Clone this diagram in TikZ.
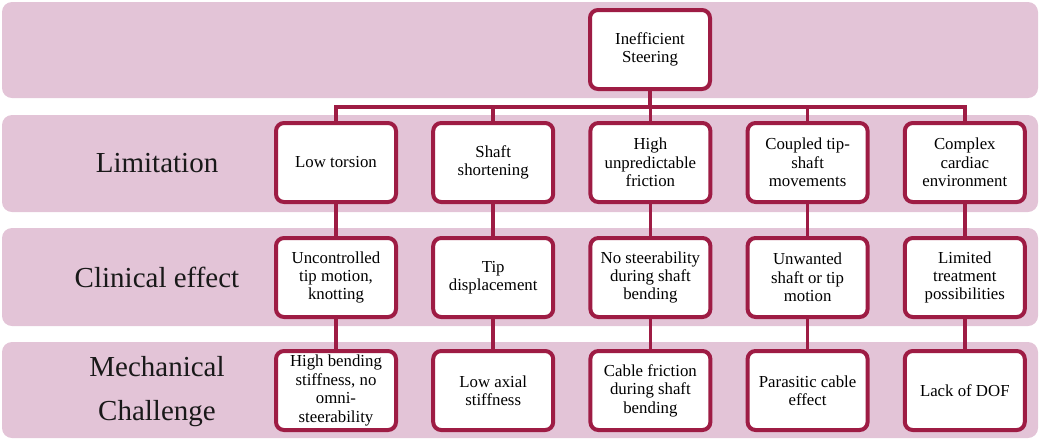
\documentclass[tikz,border=0pt]{standalone}
\usepackage{fontspec}
\setmainfont{Liberation Serif}
\usetikzlibrary{positioning}
\definecolor{bandpink}{RGB}{227,196,215}
\definecolor{crimson}{RGB}{158,28,68}
\tikzset{
	band/.style={fill=bandpink, rounded corners=5pt},
	box/.style={draw=crimson, line width=2pt, fill=white, rounded corners=4pt,
		minimum width=60pt, minimum height=39.5pt, inner sep=1pt,
		align=center, font=\fontsize{8.4}{9.2}\selectfont},
	rowlabel/.style={align=center, text=black!90, font=\fontsize{14.5}{22}\selectfont},
	link/.style={draw=crimson, line width=1.8pt},
	on grid,
	node distance=57.5pt and 78.6pt}

\begin{document}
\begin{tikzpicture}[x=0.5pt, y=-0.5pt]
		\useasboundingbox (0,0) rectangle (1040,441);
		%Bands
		\fill[band] (2,2) rectangle (1038,98);
		\fill[band] (2,115) rectangle (1038,212);
		\fill[band] (2,228) rectangle (1038,326);
		\fill[band] (2,342) rectangle (1038,438);
		
		%Labels
		\node[rowlabel] (lLim) at (157,163) {Limitation};
		\node[rowlabel] (lClin) at (157,277) {Clinical effect};
		\node[rowlabel] (lMech) at (157,392) {Mechanical\\Challenge};
		
		%Top
		\node[box] (root) at (650,49.5) {Inefficient\\Steering};
		
		%Limitation
		\node[box] (lim1) at (336,162.5) {Low torsion};
		\node[box, right=of lim1] (lim2) {Shaft\\shortening};
		\node[box, right=of lim2] (lim3) {High\\unpredictable\\friction};
		\node[box, right=of lim3] (lim4) {Coupled tip-\\shaft\\movements};
		\node[box, right=of lim4] (lim5) {Complex\\cardiac\\environment};
		
		%Clinical effect
		\node[box, below=of lim1] (cli1) {Uncontrolled\\tip motion,\\knotting};
		\node[box, below=of lim2] (cli2) {Tip\\displacement};
		\node[box, below=of lim3] (cli3) {No steerability\\during shaft\\bending};
		\node[box, below=of lim4] (cli4) {Unwanted\\shaft or tip\\motion};
		\node[box, below=of lim5] (cli5) {Limited\\treatment\\possibilities};
		
		%Mechanical challenge
		\node[box, below=56.5pt of cli1] (mec1) {High bending\\stiffness, no\\omni-\\steerability};
		\node[box, below=56.5pt of cli2] (mec2) {Low axial\\stiffness};
		\node[box, below=56.5pt of cli3] (mec3) {Cable friction\\during shaft\\bending};
		\node[box, below=56.5pt of cli4] (mec4) {Parasitic cable\\effect};
		\node[box, below=56.5pt of cli5] (mec5) {Lack of DOF};
		
		% Links
		\coordinate (bus) at (650,107);
		\path[link] (root.south) -- (bus);
		\foreach \i in {1,...,5}{
			\path[link] (bus) -| (lim\i.north);
			\path[link] (lim\i.south) -- (cli\i.north);
			\path[link] (cli\i.south) -- (mec\i.north);
		}
	\end{tikzpicture}
\end{document}
